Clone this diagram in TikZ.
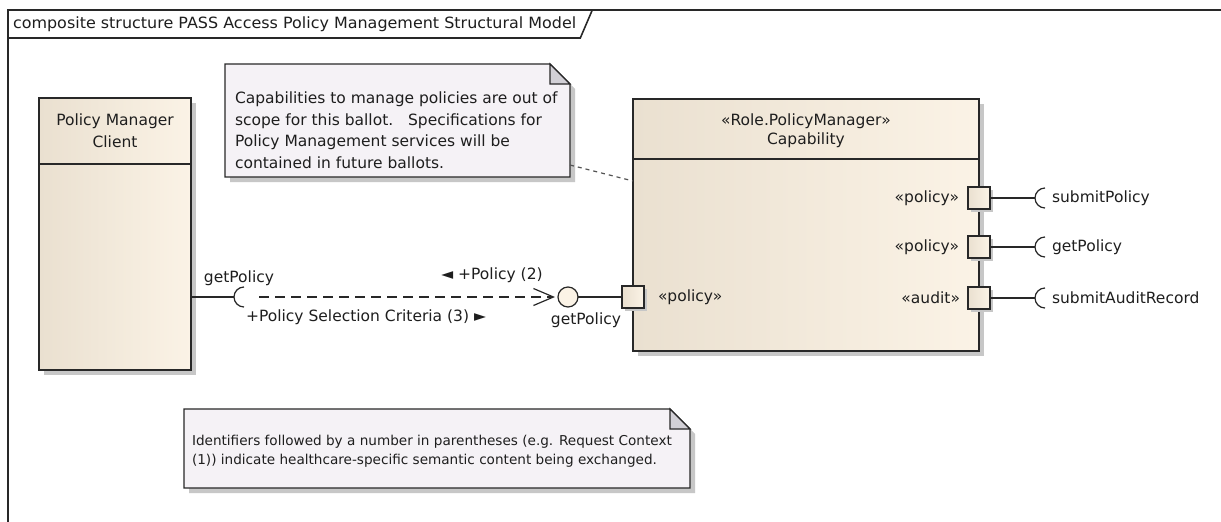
\documentclass[tikz,border=0pt]{standalone}
\usepackage{fontspec}
\setmainfont{DejaVu Sans}
\usetikzlibrary{shadows,arrows.meta,calc}

\definecolor{tanL}{RGB}{234,224,208}
\definecolor{tanR}{RGB}{251,243,230}
\definecolor{notefill}{RGB}{245,242,246}
\definecolor{foldfill}{RGB}{210,208,214}
\definecolor{edge}{RGB}{40,40,40}
\definecolor{ink}{RGB}{30,30,30}

\begin{document}
\begin{tikzpicture}[x=1pt,y=-1pt,
  font=\fontsize{15.5}{21}\selectfont, text=ink,
  every node/.style={inner sep=0pt, outer sep=0pt},
  shadowed/.style={drop shadow={shadow xshift=5pt, shadow yshift=-5pt, fill=black!22, opacity=1}},
  partbox/.style={draw=edge, line width=1.3pt, left color=tanL, right color=tanR, shadowed},
  portbox/.style={draw=edge, line width=1.3pt, minimum size=22pt, left color=tanL, right color=tanR,
    drop shadow={shadow xshift=3pt, shadow yshift=-3pt, fill=black!22, opacity=1}},
  frameline/.style={draw=edge, line width=1.6pt},
  wire/.style={draw=edge, line width=1.2pt},
  notebody/.style={draw=edge, line width=1.2pt, fill=notefill, shadowed},
  foldpart/.style={draw=edge, line width=1.2pt, fill=foldfill},
  lolli/.style={circle, draw=edge, line width=1.2pt, minimum size=20pt, fill=tanR},
  anchorline/.style={draw=edge!80, line width=1.2pt, dash pattern=on 4pt off 4pt}
]
\useasboundingbox (0,0) rectangle (1221,522);
\fill[white] (0,0) rectangle (1221,522);

% diagram frame with its name tab
\draw[frameline] (8,530) -- (8,10) -- (1230,10);
\node[anchor=west] (title) at (13,24) {\scalebox{1.03}[1]{composite structure PASS Access Policy Management Structural Model}};
\path (title.east) ++(4,14) coordinate (tabB) ++(12,-28) coordinate (tabT);
\draw[frameline] (8,38) -- (tabB) -- (tabT);

% parts
\node[partbox, minimum width=152pt, minimum height=272pt, anchor=north west] (client) at (39,98) {};
\draw[wire] ([yshift=-66pt]client.north west) -- ([yshift=-66pt]client.north east);
\node[align=center, font=\fontsize{15.5}{22}\selectfont] (clientname) at ([yshift=-33pt]client.north) {Policy Manager\\Client};

\node[partbox, minimum width=346pt, minimum height=252pt, anchor=north west] (cap) at (633,99) {};
\draw[wire] ([yshift=-60pt]cap.north west) -- ([yshift=-60pt]cap.north east);
\node[align=center, font=\fontsize{15.5}{19}\selectfont] (capname) at ([yshift=-32pt]cap.north) {«Role.PolicyManager»\\Capability};

% ports
\node[portbox] (pL) at (cap.west |- 0,297) {};
\node[portbox] (pR1) at (cap.east |- 0,198) {};
\node[portbox] (pR2) at (cap.east |- 0,247) {};
\node[portbox] (pR3) at (cap.east |- 0,298) {};

\node[anchor=west] (pLlbl) at ([xshift=14pt]pL.east) {«policy»};
\node[anchor=east] (pR1lbl) at ([xshift=-9pt]pR1.west) {«policy»};
\node[anchor=east] (pR2lbl) at ([xshift=-9pt]pR2.west) {«policy»};
\node[anchor=east] (pR3lbl) at ([xshift=-8pt]pR3.west) {«audit»};

% required interfaces on the right
\foreach \p/\t in {pR1/submitPolicy, pR2/getPolicy, pR3/submitAuditRecord}{
  \path (\p.east) ++(45,0) coordinate (s\p);
  \draw[wire] (\p) -- (s\p);
  \draw[wire] ($(s\p)+(10,-10)$) arc[start angle=270, end angle=90, radius=10];
  \node[anchor=west] (l\p) at ([xshift=17pt]s\p) {\t};
}

% client requires getPolicy, capability provides it
\path (client.east |- pL) ++(43,0) coordinate (sL);
\draw[wire] (client.east |- sL) -- (sL);
\draw[wire] ($(sL)+(10,-10)$) arc[start angle=270, end angle=90, radius=10];
\node (lol) at ($(pL)+(-65,0)$) [lolli] {};
\draw[wire] (lol) -- (pL);
\draw[wire, dash pattern=on 10pt off 6pt, -{Straight Barb[length=20pt,width=17pt]}, shorten >=3pt]
  ([xshift=25pt]sL) -- (lol.west);

\node (sLlbl) at ($(sL)+(5,-19)$) {getPolicy};
\node (msg2) at ($(lol)+(-76,-22)$) {◄ +Policy (2)};
\node (msg3) at ($(sL)+(132,20)$) {+Policy Selection Criteria (3) ►};
\node (lollbl) at ($(lol)+(18,23)$) {getPolicy};

% note about policy management scope
\node[minimum width=345pt, minimum height=113pt, anchor=north west] (n1) at (225,64) {};
\draw[notebody] (n1.north west) -- ([xshift=-20pt]n1.north east) -- ([yshift=-20pt]n1.north east)
  -- (n1.south east) -- (n1.south west) -- cycle;
\draw[foldpart] ([xshift=-20pt]n1.north east) -- ([yshift=-20pt]n1.north east)
  -- ([xshift=-20pt,yshift=-20pt]n1.north east) -- cycle;
\node[anchor=north west, align=left, font=\fontsize{15.5}{21.5}\selectfont] (n1text) at ([xshift=10pt,yshift=-28pt]n1.north west)
  {Capabilities to manage policies are out of\\scope for this ballot.\ \ \ Specifications for\\Policy Management services will be\\contained in future ballots.};
\draw[anchorline] ([yshift=12pt]n1.south east) -- ([yshift=-82pt]cap.north west);

% note about identifiers
\node[minimum width=506pt, minimum height=79pt, anchor=north west] (n2) at (184,409) {};
\draw[notebody] (n2.north west) -- ([xshift=-20pt]n2.north east) -- ([yshift=-20pt]n2.north east)
  -- (n2.south east) -- (n2.south west) -- cycle;
\draw[foldpart] ([xshift=-20pt]n2.north east) -- ([yshift=-20pt]n2.north east)
  -- ([xshift=-20pt,yshift=-20pt]n2.north east) -- cycle;
\node[anchor=north west, align=left, font=\fontsize{13.6}{19.5}\selectfont] (n2text) at ([xshift=8pt,yshift=-26pt]n2.north west)
  {Identifiers followed by a number in parentheses (e.g. Request Context\\(1)) indicate healthcare-specific semantic content being exchanged.};
\end{tikzpicture}
\end{document}
